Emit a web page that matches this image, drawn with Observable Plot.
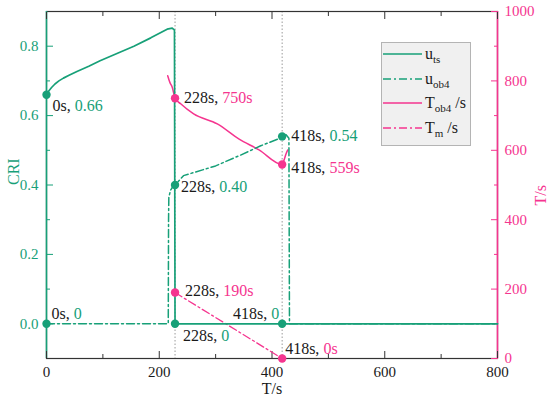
<!DOCTYPE html>
<html><head><meta charset="utf-8">
<script src="https://cdn.jsdelivr.net/npm/d3@7"></script>
<script src="https://cdn.jsdelivr.net/npm/@observablehq/plot@0.6"></script>
<style>
body{margin:0;background:#fff;}
#wrap{position:relative;width:550px;height:405px;}
#legend{position:absolute;left:381px;top:42px;}
</style></head><body><div id="wrap"></div>
<script>
const green = "#17a078", pink = "#f5358f", ink = "#1a1a1a";
const FONT = "'Liberation Serif', 'Times New Roman', serif";

// scales / ticks
const xDomain = [0, 800], yDomain = [-0.1, 0.9], rDomain = [0, 1000];
const xMajor = [0, 200, 400, 600, 800], xMinor = [100, 300, 500, 700];
const yMajor = [0, 0.2, 0.4, 0.6, 0.8], yMinor = [0.1, 0.3, 0.5, 0.7];
const rMajor = [0, 200, 400, 600, 800, 1000], rMinor = [100, 300, 500, 700, 900];
const eventT = [228, 418];

// series: u_ts (CRI)
const utsT = [0, 4, 9, 15, 22, 30, 40, 54, 75, 95, 125, 155, 185, 214, 223, 227, 228, 800];
const utsV = [0.66, 0.671, 0.681, 0.691, 0.700, 0.708, 0.716, 0.727, 0.742, 0.758, 0.779, 0.800, 0.824, 0.849, 0.852, 0.846, 0, 0];
// series: u_ob4 (CRI)
const uobT = [0, 216, 216.5, 217, 220, 224, 228, 243, 300, 344, 380, 418, 425, 430, 431, 800];
const uobV = [0, 0, 0.30, 0.364, 0.385, 0.395, 0.40, 0.427, 0.455, 0.486, 0.513, 0.537, 0.545, 0.535, 0, 0];
// series: T_ob4 (s, right axis)
const tobT = [215, 219, 223, 228, 238, 261, 303, 341, 377, 418, 422, 425, 428];
const tobV = [815, 795, 782, 750, 734, 705, 676, 633, 601, 559, 575, 590, 601];
// series: T_m (s, right axis)
const tmT = [228, 418];
const tmV = [190, 0];

// markers
const gMarkT = [0, 0, 228, 228, 418, 418];
const gMarkV = [0.66, 0, 0.40, 0, 0.54, 0];
const pMarkT = [228, 228, 418, 418];
const pMarkV = [750, 190, 559, 0];

// annotations
const labelText = ["0s, 0.66", "0s, 0", "228s, 750s", "228s, 0.40", "228s, 190s", "228s, 0", "418s, 0.54", "418s, 559s", "418s, 0", "418s, 0s"];
const labelT = [0, 0, 228, 228, 228, 228, 418, 418, 418, 418];
const labelV = [0.66, 0, 750, 0.40, 190, 0, 0.54, 559, 0, 0];
const labelAxis = ["L", "L", "R", "L", "R", "L", "L", "R", "L", "R"];
// placement (offsets in px)
const labelPlace = [
  {dx: 6, dy: 11, a: "start"}, {dx: 5, dy: -10, a: "start"}, {dx: 9, dy: 0, a: "start"},
  {dx: 6, dy: 2, a: "start"}, {dx: 10, dy: -2, a: "start"}, {dx: 8, dy: 12, a: "start"},
  {dx: 9, dy: -1, a: "start"}, {dx: 9, dy: 3, a: "start"}, {dx: -3, dy: -10, a: "end"},
  {dx: 3, dy: -10, a: "start"}
];

// legend
const legendNames = [["u", "ts", ""], ["u", "ob4", ""], ["T", "ob4", " /s"], ["T", "m", " /s"]];
const legendColor = [green, green, pink, pink];
const legendDash = [null, "8,3,2,3", null, "8,3,2,3"];

// right axis mapped onto the left scale
const toY = v => yDomain[0] + (v - rDomain[0]) / (rDomain[1] - rDomain[0]) * (yDomain[1] - yDomain[0]);
const fromY = y => rDomain[0] + (y - yDomain[0]) / (yDomain[1] - yDomain[0]) * (rDomain[1] - rDomain[0]);

const rows = (T, V, right) => T.map((t, i) => ({t, v: right ? toY(V[i]) : V[i]}));

const dashDot = "8,3,2,3";
const blank = () => "";
const labelMarks = labelText.map((s, i) => Plot.text([i], {
  x: d => labelT[d],
  y: d => labelAxis[d] === "R" ? toY(labelV[d]) : labelV[d],
  text: d => labelText[d],
  dx: labelPlace[i].dx, dy: labelPlace[i].dy, textAnchor: labelPlace[i].a,
  fill: ink, fontSize: 16, fontFamily: FONT
}));

const chart = Plot.plot({
  width: 550, height: 405,
  marginLeft: 46, marginRight: 53, marginTop: 11, marginBottom: 47,
  x: {domain: xDomain, axis: null},
  y: {domain: yDomain, axis: null},
  style: {fontSize: "15px", fontFamily: FONT, background: "white", color: ink},
  marks: [
    Plot.ruleX(eventT, {stroke: "#9a9a9a", strokeWidth: 1, strokeDasharray: "1.5,2"}),
    Plot.frame({stroke: "#333", strokeWidth: 1.2}),
    Plot.ruleX([xDomain[0]], {stroke: green, strokeWidth: 1.6}),
    Plot.ruleX([xDomain[1]], {stroke: pink, strokeWidth: 1.6}),
    // bottom / top ticks
    Plot.axisX(xMajor, {anchor: "bottom", tickSize: -7, tickFormat: blank, stroke: "#333", label: null}),
    Plot.axisX(xMinor, {anchor: "bottom", tickSize: -4, tickFormat: blank, stroke: "#333", label: null}),
    Plot.axisX(xMajor, {anchor: "top", tickSize: -7, tickFormat: blank, stroke: "#333", label: null}),
    Plot.axisX(xMinor, {anchor: "top", tickSize: -4, tickFormat: blank, stroke: "#333", label: null}),
    Plot.axisX(xMajor, {anchor: "bottom", tickSize: 0, tickPadding: 8, fill: ink, fontSize: 15, label: null}),
    // left ticks
    Plot.axisY(yMajor, {anchor: "left", tickSize: -7, tickFormat: blank, stroke: green, label: null}),
    Plot.axisY(yMinor, {anchor: "left", tickSize: -4, tickFormat: blank, stroke: green, label: null}),
    Plot.axisY(yMajor, {anchor: "left", tickSize: 0, tickPadding: 8, tickFormat: d3.format(".1f"), fill: green, fontSize: 15, label: null}),
    // right ticks
    Plot.axisY(rMajor.map(toY), {anchor: "right", tickSize: -7, tickFormat: blank, stroke: pink, label: null}),
    Plot.axisY(rMinor.map(toY), {anchor: "right", tickSize: -4, tickFormat: blank, stroke: pink, label: null}),
    Plot.axisY(rMajor.map(toY), {anchor: "right", tickSize: 0, tickPadding: 7, tickFormat: d => String(Math.round(fromY(d))), fill: pink, fontSize: 15, label: null}),
    // axis titles
    Plot.text(["T/s"], {frameAnchor: "bottom", dy: 35, fill: ink, fontSize: 16}),
    Plot.text(["CRI"], {frameAnchor: "left", dx: -33, rotate: -90, fill: green, fontSize: 16}),
    Plot.text(["T/s"], {frameAnchor: "right", dx: 43, rotate: -90, fill: pink, fontSize: 16}),
    // series
    Plot.line(rows(tmT, tmV, true), {x: "t", y: "v", stroke: pink, strokeWidth: 1.3, strokeDasharray: dashDot}),
    Plot.line(rows(tobT, tobV, true), {x: "t", y: "v", stroke: pink, strokeWidth: 1.5, curve: "monotone-x"}),
    Plot.line(rows(uobT, uobV, false), {x: "t", y: "v", stroke: green, strokeWidth: 1.5, strokeDasharray: dashDot}),
    Plot.line(rows(utsT, utsV, false), {x: "t", y: "v", stroke: green, strokeWidth: 1.7}),
    Plot.dot(rows(gMarkT, gMarkV, false), {x: "t", y: "v", r: 4.2, fill: green, stroke: "none"}),
    Plot.dot(rows(pMarkT, pMarkV, true), {x: "t", y: "v", r: 4.2, fill: pink, stroke: "none"}),
    ...labelMarks
  ]
});

document.getElementById("wrap").appendChild(chart);

// colour the value part of each annotation
const labelColor = new Map(labelText.map((s, i) => [s, labelAxis[i] === "R" ? pink : green]));
chart.querySelectorAll("text").forEach(el => {
  const s = el.textContent;
  if (!labelColor.has(s)) return;
  const [a, b] = s.split(", ");
  el.textContent = "";
  el.style.whiteSpace = "pre";
  const ns = "http://www.w3.org/2000/svg";
  const t1 = document.createElementNS(ns, "tspan"); t1.textContent = a + ", "; t1.setAttribute("fill", ink);
  const t2 = document.createElementNS(ns, "tspan"); t2.textContent = b; t2.setAttribute("fill", labelColor.get(s));
  el.appendChild(t1); el.appendChild(t2);
});

// legend
const lg = d3.select("#wrap").append("svg").attr("id", "legend")
  .attr("width", 90).attr("height", 104);
lg.append("rect").attr("x", 0.5).attr("y", 0.5).attr("width", 89).attr("height", 103)
  .attr("fill", "#f0f0f0").attr("stroke", "#b4b4b4");
const rowY = [12, 37, 61, 86];
legendNames.forEach((n, i) => {
  lg.append("line").attr("x1", 2).attr("x2", 41).attr("y1", rowY[i]).attr("y2", rowY[i])
    .attr("stroke", legendColor[i]).attr("stroke-width", 1.5)
    .attr("stroke-dasharray", legendDash[i]);
  const t = lg.append("text").attr("x", 44).attr("y", rowY[i] + 4.5)
    .attr("font-size", 16).attr("fill", ink).style("white-space", "pre");
  t.append("tspan").text(n[0]);
  t.append("tspan").attr("font-size", 11).attr("dy", 4).text(n[1]);
  if (n[2]) t.append("tspan").attr("dy", -4).text(n[2]);
});

// force the serif face with inline !important on every text element
document.querySelectorAll("#wrap svg, #wrap text, #wrap tspan").forEach(el => {
  el.style.setProperty("font-family", FONT, "important");
});
</script>
</body></html>
